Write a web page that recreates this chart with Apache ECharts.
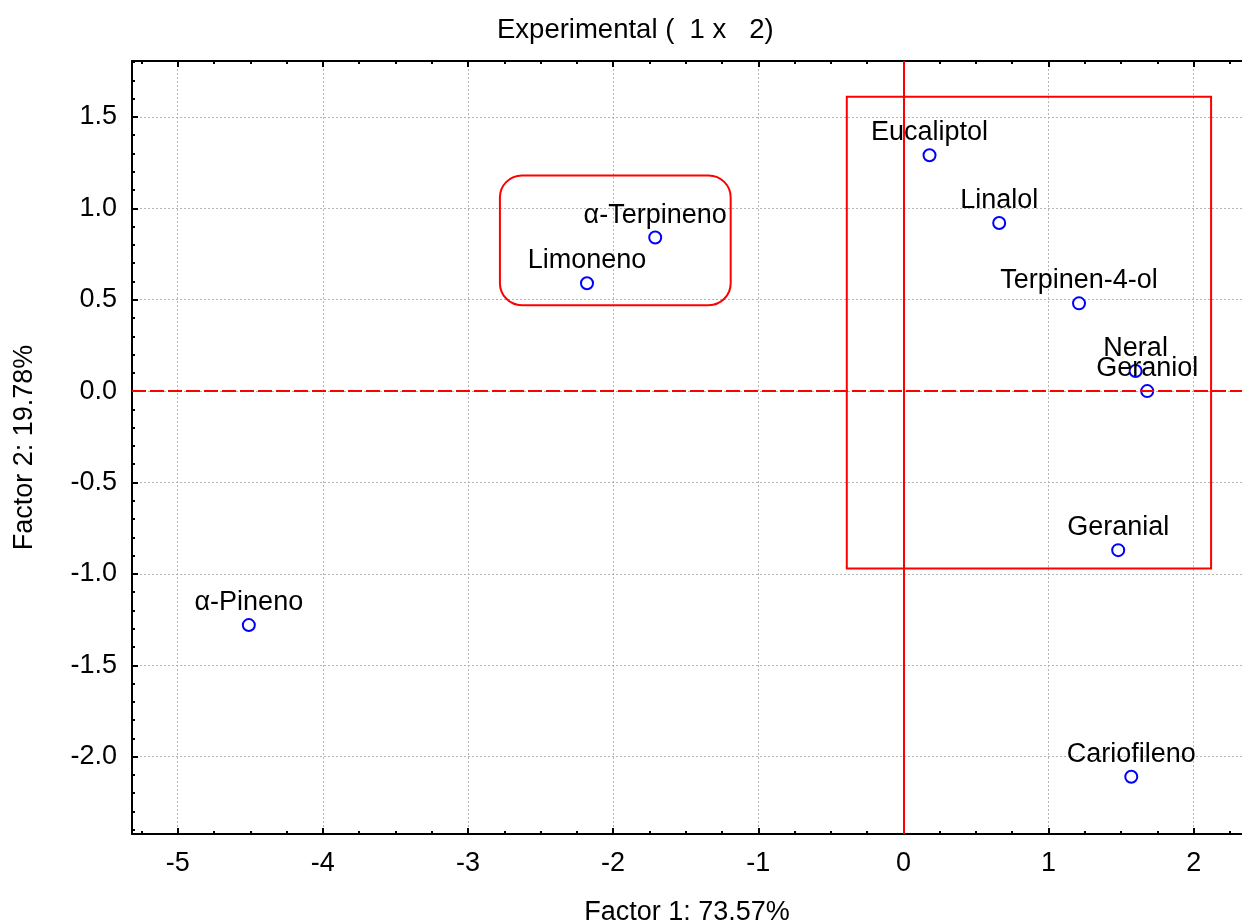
<!DOCTYPE html>
<html>
<head>
<meta charset="utf-8">
<title>Experimental (1 x 2)</title>
<script src="https://cdn.jsdelivr.net/npm/echarts@6/dist/echarts.min.js"></script>
<style>
  html, body { margin: 0; padding: 0; background: #fff; }
  #chart { width: 1242px; height: 924px; }
</style>
</head>
<body>
<div id="chart"></div>
<script>
// variables (loadings on factor 1 / factor 2)
var names = ['Eucaliptol', 'Linalol', 'Terpinen-4-ol', 'Neral', 'Geraniol',
  'α-Terpineno', 'Limoneno', 'Geranial', 'Cariofileno', 'α-Pineno'];
var factor1 = [0.18, 0.66, 1.21, 1.60, 1.68, -1.71, -2.18, 1.48, 1.57, -4.51];
var factor2 = [1.29, 0.92, 0.48, 0.11, 0.00, 0.84, 0.59, -0.87, -2.11, -1.28];

// group boxes drawn on the plot: [x1, y1, x2, y2]
var groupBoxes = [
  [-0.39, 1.61, 2.12, -0.97],
  [-2.78, 1.18, -1.19, 0.47]
];

var xTicks = [-5, -4, -3, -2, -1, 0, 1, 2];
var yTicks = [-2.0, -1.5, -1.0, -0.5, 0.0, 0.5, 1.0, 1.5];

var xMin = -5.315, xMax = 2.333;
var yMin = -2.423, yMax = 1.806;

var font = 'Liberation Sans, Arial, sans-serif';

// minor ticks between the major ones
var xMinor = [];
for (var i = -21; i <= 9; i++) {
  if (i % 4 !== 0) xMinor.push(i / 4);
}
var yMinor = [];
for (var j = -24; j <= 18; j++) {
  if (j % 5 !== 0) yMinor.push(j / 10);
}

var points = names.map(function (n, k) {
  return { name: n, value: [factor1[k], factor2[k]] };
});

var myChart = echarts.init(document.getElementById('chart'));

function xAxisDef(pos, ticks, len, major) {
  return {
    type: 'value',
    position: pos,
    min: xMin,
    max: xMax,
    axisLine: { show: major, onZero: false, lineStyle: { color: '#000', width: 2 } },
    axisTick: { show: true, inside: true, length: len, customValues: ticks,
      lineStyle: { color: '#000', width: 2 } },
    axisLabel: {
      show: major && pos === 'bottom',
      customValues: ticks,
      margin: 16,
      color: '#000',
      fontSize: 27,
      fontFamily: font
    },
    splitLine: { show: major && pos === 'bottom',
      lineStyle: { color: '#b4b4b4', type: [2, 2], width: 1 } },
    name: major && pos === 'bottom' ? 'Factor 1: 73.57%' : '',
    nameLocation: 'middle',
    nameGap: 65,
    nameTextStyle: { color: '#000', fontSize: 27, fontFamily: font }
  };
}

function yAxisDef(ticks, len, major) {
  return {
    type: 'value',
    position: 'left',
    min: yMin,
    max: yMax,
    axisLine: { show: major, onZero: false, lineStyle: { color: '#000', width: 2 } },
    axisTick: { show: true, inside: true, length: len, customValues: ticks,
      lineStyle: { color: '#000', width: 2 } },
    axisLabel: {
      show: major,
      customValues: ticks,
      margin: 15,
      color: '#000',
      fontSize: 27,
      fontFamily: font,
      formatter: function (v) { return v.toFixed(1); }
    },
    splitLine: { show: major, lineStyle: { color: '#b4b4b4', type: [2, 2], width: 1 } },
    name: major ? 'Factor 2: 19.78%' : '',
    nameLocation: 'middle',
    nameGap: 94,
    nameTextStyle: { color: '#000', fontSize: 27, fontFamily: font }
  };
}

myChart.setOption({
  animation: false,
  backgroundColor: '#fff',
  title: {
    text: 'Experimental (  1 x   2)',
    left: 492,
    top: 11,
    textStyle: { color: '#000', fontSize: 27.5, fontWeight: 'normal', fontFamily: font }
  },
  grid: { left: 132, right: 0, top: 61, bottom: 90, outerBoundsMode: 'none' },
  xAxis: [
    xAxisDef('bottom', xTicks, 6, true),
    xAxisDef('bottom', xMinor, 3, false),
    xAxisDef('top', xTicks, 6, true),
    xAxisDef('top', xMinor, 3, false)
  ],
  yAxis: [
    yAxisDef(yTicks, 6, true),
    yAxisDef(yMinor, 3, false)
  ],
  series: [
    {
      type: 'custom',
      xAxisIndex: 0,
      yAxisIndex: 0,
      silent: true,
      encode: { x: [0, 2], y: [1, 3] },
      data: groupBoxes,
      renderItem: function (params, api) {
        var p1 = api.coord([api.value(0), api.value(1)]);
        var p2 = api.coord([api.value(2), api.value(3)]);
        return {
          type: 'rect',
          shape: {
            x: p1[0], y: p1[1], width: p2[0] - p1[0], height: p2[1] - p1[1],
            r: params.dataIndex === 1 ? 22 : 0
          },
          style: { fill: 'none', stroke: '#ff0000', lineWidth: 2 }
        };
      },
      z: 3
    },
    {
      type: 'scatter',
      xAxisIndex: 0,
      yAxisIndex: 0,
      data: points,
      symbol: 'emptyCircle',
      symbolSize: 12,
      itemStyle: { color: '#0000ff', borderColor: '#0000ff', borderWidth: 2, opacity: 1 },
      label: {
        show: true,
        position: 'top',
        distance: 2,
        formatter: '{b}',
        color: '#000',
        fontSize: 27,
        fontFamily: font
      },
      markLine: {
        silent: true,
        symbol: 'none',
        label: { show: false },
        data: [
          { xAxis: 0, lineStyle: { color: '#ff0000', width: 2, type: 'solid' } },
          { yAxis: 0, lineStyle: { color: '#ff0000', width: 2, type: [14, 4] } }
        ]
      },
      z: 4
    }
  ]
});
</script>
</body>
</html>
